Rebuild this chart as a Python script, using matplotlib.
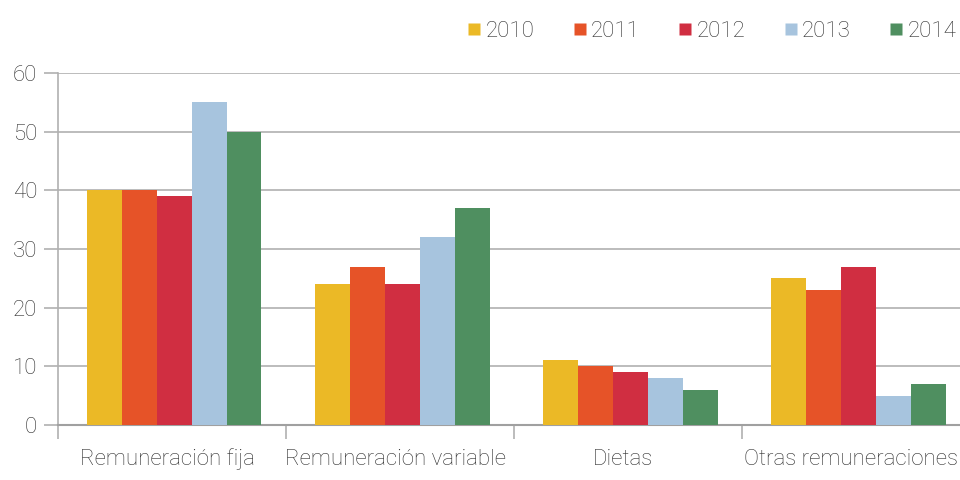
import numpy as np
import matplotlib.pyplot as plt
from matplotlib.lines import Line2D

categories = ['Remuneración fija', 'Remuneración variable', 'Dietas', 'Otras remuneraciones']
years = ['2010', '2011', '2012', '2013', '2014']
values = {
    '2010': [40, 24, 11, 25],
    '2011': [40, 27, 10, 23],
    '2012': [39, 24, 9, 27],
    '2013': [55, 32, 8, 5],
    '2014': [50, 37, 6, 7],
}
colors = ['#EBB926', '#E65328', '#D02E41', '#A7C4DE', '#4F8F60']

font_name = 'Roboto'
font_weight = 'light'
font_size = 16
text_color = '#2E2E2E'
grid_color = '#B0B0B0'

fig = plt.figure(figsize=(9.6, 4.8), dpi=100)
ax = fig.add_axes([58 / 960, 55 / 480, 902 / 960, 352 / 480])

x = np.arange(len(categories))
width = 0.153
for i, yr in enumerate(years):
    ax.bar(x + (i - 2) * width + 0.01, values[yr], width=width, color=colors[i],
           edgecolor='none', label=yr, zorder=3)

ax.set_ylim(0, 60)
ax.set_xlim(-0.5, 3.456)
ax.set_yticks(range(0, 61, 10))
ax.yaxis.grid(True, color=grid_color, linewidth=1.2, zorder=0)

# category boundaries as x ticks
ax.set_xticks(np.arange(-0.5, 3.5, 1), minor=False)
ax.set_xticklabels([])
ax.set_xticks(x - 0.02, minor=True)
ax.set_xticklabels(categories, minor=True, fontname=font_name, fontweight=font_weight,
                   fontsize=font_size, color=text_color)
ax.tick_params(axis='x', which='minor', length=0, pad=17)
ax.tick_params(axis='x', which='major', length=10, color=grid_color, width=1.2)
ax.tick_params(axis='y', length=10, color=grid_color, width=1.2, pad=5)
for tick in ax.get_yticklabels():
    tick.set_fontname(font_name)
    tick.set_fontweight(font_weight)
    tick.set_fontsize(font_size)
    tick.set_color(text_color)

for s in ['top', 'right']:
    ax.spines[s].set_visible(False)
ax.spines['left'].set_color(grid_color)
ax.spines['left'].set_linewidth(1.2)
ax.spines['bottom'].set_color('#A0A0A0')
ax.spines['bottom'].set_linewidth(1.5)

handles = [Line2D([], [], marker='s', linestyle='none', markersize=9,
                  markerfacecolor=c, markeredgecolor='none') for c in colors]
leg = ax.legend(handles, years, ncol=5, loc='upper right', bbox_to_anchor=(1.018, 1.205),
                frameon=False, handletextpad=0.25, columnspacing=1.8, handlelength=0.5,
                prop={'family': font_name, 'weight': font_weight, 'size': font_size})
for t in leg.get_texts():
    t.set_color(text_color)

fig.savefig('out.png', dpi=100)
